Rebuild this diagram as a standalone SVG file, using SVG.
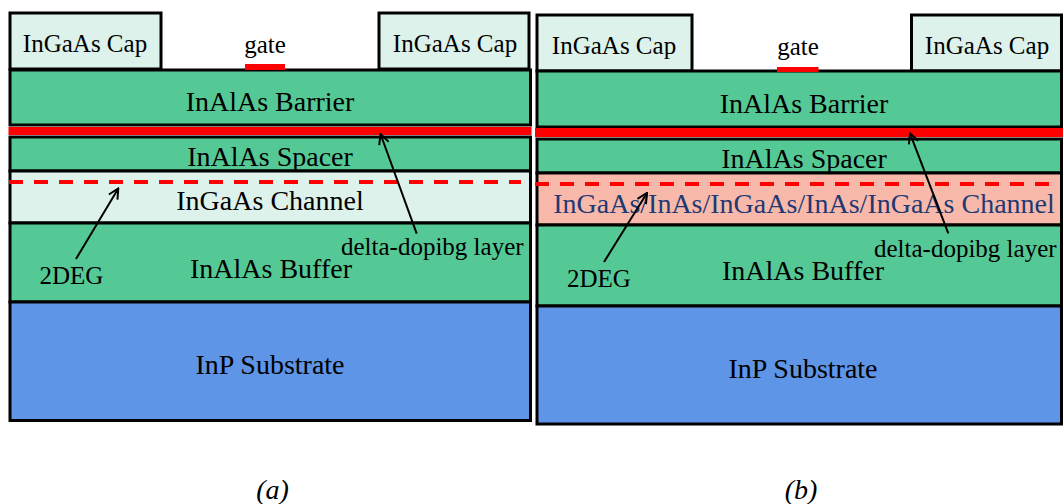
<svg xmlns="http://www.w3.org/2000/svg" width="1063" height="504" viewBox="0 0 1063 504">
<style>
.lay{stroke:#000;stroke-width:3}
.g{fill:#55C995}
.lt{fill:#DDF2EA}
.bl{fill:#5E95E6}
.pk{fill:#F8B9AA}
.red{fill:#FF0000}
.dash{stroke:#FF0000;stroke-width:4;stroke-dasharray:14 11;fill:none}
text{font-family:"Liberation Serif","Times New Roman",serif;fill:#000}
.big{font-size:28px;text-anchor:middle}
.sm{font-size:25px}
.mid{text-anchor:middle}
.navy{fill:#1F3A73}
.cap{font-size:28px;font-style:italic;text-anchor:middle}
.arr{stroke:#000;stroke-width:2;fill:none}
</style>
<defs>
<marker id="ah" viewBox="0 0 12 12" refX="11" refY="6" markerWidth="12" markerHeight="12" markerUnits="userSpaceOnUse" orient="auto">
<path d="M1,1 L11,6 L1,11" fill="none" stroke="#000" stroke-width="2"/>
</marker>
</defs>
<rect width="1063" height="504" fill="#fff"/>
<!-- Panel (a) -->
<g id="a-cap-left"><rect class="lay lt" x="10" y="13" width="151" height="56"/><text class="sm mid" x="85" y="52">InGaAs Cap</text></g>
<g id="a-cap-right"><rect class="lay lt" x="379" y="13" width="150" height="56"/><text class="sm mid" x="455" y="52">InGaAs Cap</text></g>
<g id="a-barrier"><rect class="lay g" x="10" y="70" width="520.5" height="55"/><text class="big" x="270" y="111">InAlAs Barrier</text></g>
<g id="a-gate"><rect class="red" x="245" y="64" width="40" height="6"/><text class="sm mid" x="265" y="53">gate</text></g>
<g id="a-delta"><rect class="red" x="8.5" y="127" width="523" height="8"/></g>
<g id="a-spacer"><rect class="lay g" x="10" y="137" width="520.5" height="34"/><text class="big" x="270" y="166">InAlAs Spacer</text></g>
<g id="a-channel"><rect class="lay lt" x="10" y="171" width="520.5" height="52"/><text class="big" x="270" y="210">InGaAs Channel</text></g>
<g id="a-buffer"><rect class="lay g" x="10" y="223" width="520.5" height="79"/><text class="big" x="271" y="278">InAlAs Buffer</text></g>
<g id="a-substrate"><rect class="lay bl" x="10" y="302" width="520.5" height="118.5"/><text class="big" x="270" y="374">InP Substrate</text></g>
<g id="a-2deg"><line class="dash" x1="9" y1="182" x2="521" y2="182"/><text class="sm" x="39.5" y="284">2DEG</text></g>
<g id="a-delta-label"><text class="sm" x="341" y="255">delta-dopibg layer</text></g>
<!-- Panel (b) -->
<g id="b-cap-left"><rect class="lay lt" x="537" y="15" width="155" height="56"/><text class="sm mid" x="614" y="54">InGaAs Cap</text></g>
<g id="b-cap-right"><rect class="lay lt" x="911.5" y="15" width="150" height="56"/><text class="sm mid" x="987" y="54">InGaAs Cap</text></g>
<g id="b-barrier"><rect class="lay g" x="537" y="71" width="524.5" height="56"/><text class="big" x="804" y="113">InAlAs Barrier</text></g>
<g id="b-gate"><rect class="red" x="777" y="67" width="41.5" height="5"/><text class="sm mid" x="798" y="55">gate</text></g>
<g id="b-delta"><rect class="red" x="535" y="128" width="528" height="9"/></g>
<g id="b-spacer"><rect class="lay g" x="537" y="139" width="524.5" height="34"/><text class="big" x="804" y="168">InAlAs Spacer</text></g>
<g id="b-channel"><rect class="lay pk" x="537" y="173" width="524.5" height="52"/><text class="big navy" x="804" y="213">InGaAs/InAs/InGaAs/InAs/InGaAs Channel</text></g>
<g id="b-buffer"><rect class="lay g" x="537" y="225" width="524.5" height="81"/><text class="big" x="803" y="280">InAlAs Buffer</text></g>
<g id="b-substrate"><rect class="lay bl" x="537" y="306" width="524.5" height="118"/><text class="big" x="803" y="378">InP Substrate</text></g>
<g id="b-2deg"><line class="dash" x1="535" y1="184" x2="1053" y2="184"/><text class="sm" x="567" y="287">2DEG</text></g>
<g id="b-delta-label"><text class="sm" x="874" y="257">delta-dopibg layer</text></g>
<!-- Connectors -->
<g id="connectors">
<line class="arr" x1="76" y1="259" x2="118.3" y2="188.5" marker-end="url(#ah)"/>
<line class="arr" x1="416.7" y1="233.6" x2="380.5" y2="134" marker-end="url(#ah)"/>
<line class="arr" x1="604" y1="262" x2="647" y2="193" marker-end="url(#ah)"/>
<line class="arr" x1="948.3" y1="233.3" x2="910" y2="133.3" marker-end="url(#ah)"/>
</g>
<!-- Captions -->
<g id="captions">
<text class="cap" x="272.5" y="499">(a)</text>
<text class="cap" x="801" y="499">(b)</text>
</g>
</svg>
